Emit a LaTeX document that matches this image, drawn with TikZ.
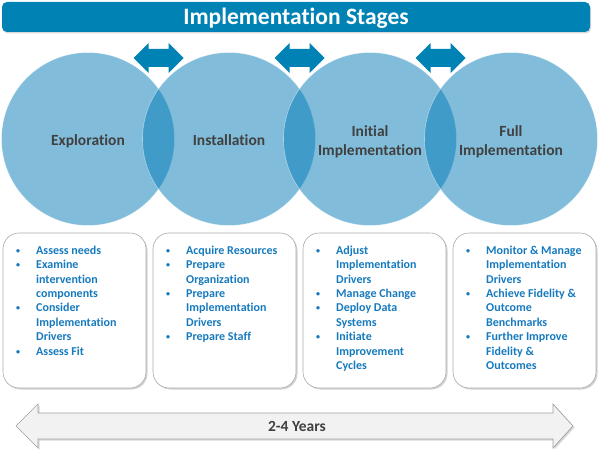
\documentclass[tikz,border=0pt]{standalone}
\usepackage{fontspec}
\setmainfont{Carlito}[Ligatures=NoCommon]
\usetikzlibrary{shadows}
\definecolor{barblue}{RGB}{0,130,180}
\definecolor{circblue}{RGB}{3,122,183}
\definecolor{labelgray}{RGB}{64,64,64}
\definecolor{itemblue}{RGB}{22,122,190}
\definecolor{boxline}{RGB}{170,170,170}
\definecolor{arrowfill}{RGB}{242,242,242}
\definecolor{arrowline}{RGB}{160,160,160}
\newcommand\smallbul{\raisebox{1pt}{\fontsize{8}{8}\selectfont\textbullet}}
\begin{document}
\begin{tikzpicture}[x=1pt,y=-1pt,
  titlebar/.style={draw=none, fill=barblue, rounded corners=5pt,
    drop shadow={shadow xshift=1pt, shadow yshift=-1.5pt, opacity=0.3}},
  stagecircle/.style={circle, minimum size=173pt, inner sep=0pt,
    fill=circblue, fill opacity=0.5, draw=white, draw opacity=0.45, line width=0.6pt},
  stagelbl/.style={font=\fontsize{15.5}{19}\selectfont\bfseries, text=labelgray, inner sep=0pt},
  infobox/.style={rectangle, rounded corners=16pt, minimum width=143pt, minimum height=155pt,
    fill=white, draw=boxline, line width=0.6pt,
    drop shadow={shadow xshift=1.5pt, shadow yshift=-1.5pt, opacity=0.35}},
  itemtext/.style={anchor=north west, inner sep=0pt, text=itemblue,
    font=\fontsize{12}{14.4}\selectfont\bfseries},
  linkarrow/.pic={\fill[barblue] (-25,0) -- (-10,-15) -- (-10,-9) -- (10,-9) -- (10,-15)
    -- (25,0) -- (10,15) -- (10,9) -- (-10,9) -- (-10,15) -- cycle;}
]
\useasboundingbox (0,0) rectangle (600,452);

% title bar
\fill[titlebar] (2,2) rectangle (590,32);
\node[anchor=base, text=white, inner sep=0pt, font=\fontsize{23.5}{28}\selectfont\bfseries]
  (title) at (296,25) {Implementation Stages};

% linking arrows
\pic at (158.5,58) {linkarrow};
\pic at (299.5,58) {linkarrow};
\pic at (440.5,58) {linkarrow};

% circles
\node[stagecircle] (c1) at (88,139) {};
\node[stagecircle] (c2) at (229,139) {};
\node[stagecircle] (c3) at (370,139) {};
\node[stagecircle] (c4) at (511,139) {};

\node[stagelbl, anchor=base] (l1) at (88,145) {Exploration};
\node[stagelbl, anchor=base] (l2) at (229,145) {Installation};
\node[stagelbl, align=center] (l3) at (370,142) {Initial\\Implementation};
\node[stagelbl, align=center] (l4) at (511,142) {Full\\Implementation};

% info boxes
\node[infobox] (b1) at (74.5,310.5) {};
\node[infobox] (b2) at (224.5,310.5) {};
\node[infobox] (b3) at (374.5,310.5) {};
\node[infobox] (b4) at (524.5,310.5) {};

\node[itemtext] (t1) at (16,244) {\begin{tabular}{@{}p{20pt}@{}l@{}}
\smallbul & Assess needs\\
\smallbul & Examine\\
 & intervention\\
 & components\\
\smallbul & Consider\\
 & Implementation\\
 & Drivers\\
\smallbul & Assess Fit
\end{tabular}};
\node[itemtext] (t2) at (166,244) {\begin{tabular}{@{}p{20pt}@{}l@{}}
\smallbul & Acquire Resources\\
\smallbul & Prepare\\
 & Organization\\
\smallbul & Prepare\\
 & Implementation\\
 & Drivers\\
\smallbul & Prepare Staff
\end{tabular}};
\node[itemtext] (t3) at (316,244) {\begin{tabular}{@{}p{20pt}@{}l@{}}
\smallbul & Adjust\\
 & Implementation\\
 & Drivers\\
\smallbul & Manage Change\\
\smallbul & Deploy Data\\
 & Systems\\
\smallbul & Initiate\\
 & Improvement\\
 & Cycles
\end{tabular}};
\node[itemtext] (t4) at (466,244) {\begin{tabular}{@{}p{20pt}@{}l@{}}
\smallbul & Monitor \& Manage\\
 & Implementation\\
 & Drivers\\
\smallbul & Achieve Fidelity \&\\
 & Outcome\\
 & Benchmarks\\
\smallbul & Further Improve\\
 & Fidelity \&\\
 & Outcomes
\end{tabular}};

% timeline arrow
\filldraw[fill=arrowfill, draw=arrowline, line width=0.7pt,
  drop shadow={shadow xshift=1.5pt, shadow yshift=-1.5pt, opacity=0.3}]
  (16,426) -- (38,404) -- (38,413) -- (553,413) -- (553,404) -- (573,426)
  -- (553,448) -- (553,439) -- (38,439) -- (38,448) -- cycle;
\node[anchor=base, inner sep=0pt, text=labelgray, font=\fontsize{15.5}{19}\selectfont\bfseries]
  (years) at (297,431) {2-4 Years};
\end{tikzpicture}
\end{document}
